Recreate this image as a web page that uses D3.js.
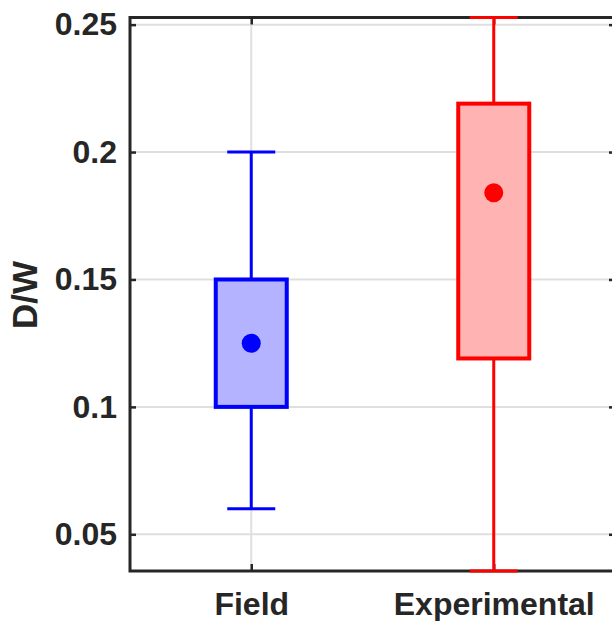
<!DOCTYPE html>
<html><head><meta charset="utf-8">
<script src="https://cdn.jsdelivr.net/npm/d3@7"></script>
<style>body{margin:0;background:#fff;} svg{display:block;}</style>
</head><body>
<svg id="chart" width="612" height="621"></svg>
<script>
const categories = ["Field", "Experimental"];
const whiskerLow = [0.06, 0.0356];
const boxLow = [0.10, 0.119];
const boxHigh = [0.15, 0.219];
const whiskerHigh = [0.20, 0.2528];
const means = [0.125, 0.184];
const strokeColors = ["#0000ff", "#ff0000"];
const fillColors = ["#b3b3ff", "#ffb3b3"];
const yTicks = [0.05, 0.1, 0.15, 0.2, 0.25];
const yTickLabels = ["0.05", "0.1", "0.15", "0.2", "0.25"];
const yLabel = "D/W";

const svg = d3.select("#chart");
const L = 130, R = 615, T = 17.5, B = 571;
const x = d3.scaleLinear().domain([0.5, 2.5]).range([L, R]);
const y = d3.scaleLinear().domain([0.0356, 0.2528]).range([B, T]);
const axisColor = "#262626";
const font = "'Liberation Sans', Arial, sans-serif";

// grid
const g = svg.append("g");
g.selectAll("line.hg").data(yTicks).join("line")
  .attr("x1", L).attr("x2", R).attr("y1", d => y(d)).attr("y2", d => y(d))
  .attr("stroke", "#dfdfdf").attr("stroke-width", 2);
g.selectAll("line.vg").data(categories).join("line")
  .attr("x1", (d, i) => x(i + 1)).attr("x2", (d, i) => x(i + 1)).attr("y1", T).attr("y2", B)
  .attr("stroke", "#dfdfdf").attr("stroke-width", 2);

// axes
const yAxisL = d3.axisLeft(y).tickValues(yTicks).tickFormat((d, i) => yTickLabels[i]).tickSizeInner(-6).tickSizeOuter(0).tickPadding(13);
const ga = svg.append("g").attr("transform", `translate(${L},0)`).call(yAxisL);
ga.select(".domain").remove();
ga.selectAll(".tick line").attr("stroke", axisColor).attr("stroke-width", 2.5);
ga.selectAll(".tick text").attr("font-family", font).attr("font-size", 32).attr("font-weight", "bold").attr("fill", axisColor);

const yAxisR = d3.axisRight(y).tickValues(yTicks).tickFormat("").tickSizeInner(-6).tickSizeOuter(0);
const gr = svg.append("g").attr("transform", `translate(${R},0)`).call(yAxisR);
gr.select(".domain").remove();
gr.selectAll(".tick line").attr("stroke", axisColor).attr("stroke-width", 2.5);

const xAxisB = d3.axisBottom(x).tickValues([1, 2]).tickFormat((d, i) => categories[i]).tickSizeInner(-7).tickSizeOuter(0).tickPadding(21);
const gb = svg.append("g").attr("transform", `translate(0,${B})`).call(xAxisB);
gb.select(".domain").remove();
gb.selectAll(".tick line").attr("stroke", axisColor).attr("stroke-width", 2.5);
gb.selectAll(".tick text").attr("font-family", font).attr("font-size", 32).attr("font-weight", "bold").attr("fill", axisColor);

const xAxisT = d3.axisTop(x).tickValues([1, 2]).tickFormat("").tickSizeInner(-7).tickSizeOuter(0);
const gt = svg.append("g").attr("transform", `translate(0,${T})`).call(xAxisT);
gt.select(".domain").remove();
gt.selectAll(".tick line").attr("stroke", axisColor).attr("stroke-width", 2.5);

svg.append("rect").attr("x", L).attr("y", T).attr("width", R - L).attr("height", B - T)
  .attr("fill", "none").attr("stroke", axisColor).attr("stroke-width", 3);

svg.append("text").attr("transform", `translate(37,295) rotate(-90)`)
  .attr("text-anchor", "middle").attr("font-family", font).attr("font-size", 35)
  .attr("font-weight", "bold").attr("fill", axisColor).text(yLabel);

// boxes
const boxW = 71, capW = 48;
const bg = svg.append("g");
categories.forEach((c, i) => {
  const cx = x(i + 1);
  bg.append("line").attr("x1", cx).attr("x2", cx).attr("y1", y(whiskerHigh[i])).attr("y2", y(boxHigh[i]))
    .attr("stroke", strokeColors[i]).attr("stroke-width", 3);
  bg.append("line").attr("x1", cx).attr("x2", cx).attr("y1", y(boxLow[i])).attr("y2", y(whiskerLow[i]))
    .attr("stroke", strokeColors[i]).attr("stroke-width", 3);
  [whiskerHigh[i], whiskerLow[i]].forEach(v => {
    bg.append("line").attr("x1", cx - capW / 2).attr("x2", cx + capW / 2).attr("y1", y(v)).attr("y2", y(v))
      .attr("stroke", strokeColors[i]).attr("stroke-width", 3);
  });
  bg.append("rect").attr("x", cx - boxW / 2).attr("width", boxW)
    .attr("y", y(boxHigh[i])).attr("height", y(boxLow[i]) - y(boxHigh[i]))
    .attr("fill", fillColors[i]).attr("stroke", strokeColors[i]).attr("stroke-width", 4);
  bg.append("circle").attr("cx", cx).attr("cy", y(means[i])).attr("r", 9.5).attr("fill", strokeColors[i]);
});
</script>
</body></html>
